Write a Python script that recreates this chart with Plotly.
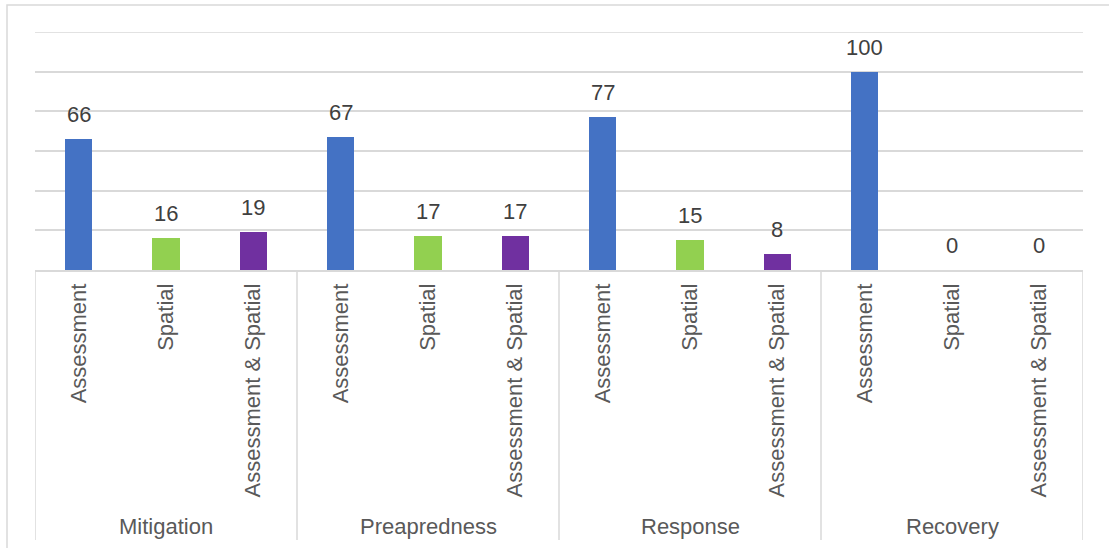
import plotly.graph_objects as go

phases = ["Mitigation", "Preapredness", "Response", "Recovery"]
types = ["Assessment", "Spatial", "Assessment & Spatial"]
assessment = [66, 67, 77, 100]
spatial = [16, 17, 15, 0]
both = [19, 17, 8, 0]
colors = {"Assessment": "#4472C4", "Spatial": "#92D050", "Assessment & Spatial": "#7030A0"}
y_max = 120

W, H = 1109, 548
ML, MR, MT, MB = 35, 26, 32, 278
PW = W - ML - MR
PH = H - MT - MB

xs, ys, cols, ticktext = [], [], [], []
series = {"Assessment": assessment, "Spatial": spatial, "Assessment & Spatial": both}
for gi, ph in enumerate(phases):
    for ti, t in enumerate(types):
        xs.append(gi * len(types) + ti)
        ys.append(series[t][gi])
        cols.append(colors[t])
        ticktext.append(t)

fig = go.Figure()
fig.add_trace(go.Bar(x=xs, y=ys, marker=dict(color=cols, line=dict(width=0)),
                     width=0.31, hoverinfo="skip"))

font = "Liberation Sans, Arial, sans-serif"
annotations = []
for x, y in zip(xs, ys):
    annotations.append(dict(x=x, y=y, xref="x", yref="y", text=str(y), showarrow=False,
                            yanchor="bottom", yshift=10,
                            font=dict(family=font, size=22, color="#404040")))
n = len(types)
for gi, ph in enumerate(phases):
    annotations.append(dict(x=gi * n + (n - 1) / 2, y=0, xref="x", yref="paper", text=ph,
                            showarrow=False, yanchor="middle", yshift=-256,
                            font=dict(family=font, size=22, color="#595959")))

shapes = []
for gi in range(len(phases) + 1):
    shapes.append(dict(type="line", xref="x", yref="paper", x0=gi * n - 0.5, x1=gi * n - 0.5,
                       y0=0, y1=-(540 - (MT + PH)) / PH, line=dict(color="#d9d9d9", width=1.5)))
# top gridline at the range edge
shapes.append(dict(type="line", xref="paper", yref="y", x0=0, x1=1, y0=y_max, y1=y_max,
                   line=dict(color="#d9d9d9", width=1.5), layer="below"))
# outer chart border
shapes.append(dict(type="rect", xref="paper", yref="paper",
                   x0=(7 - ML) / PW, x1=(W + 5 - ML) / PW,
                   y0=-(H + 5 - MT - PH) / PH, y1=1 + (MT - 5) / PH,
                   line=dict(color="#d9d9d9", width=1.5), fillcolor="rgba(0,0,0,0)", layer="below"))

fig.update_layout(
    width=W, height=H,
    margin=dict(l=ML, r=MR, t=MT, b=MB, pad=0),
    paper_bgcolor="white", plot_bgcolor="white",
    showlegend=False,
    bargap=0,
    annotations=annotations,
    shapes=shapes,
    xaxis=dict(range=[-0.5, len(xs) - 0.5], tickmode="array", tickvals=xs, ticktext=ticktext,
               tickangle=-90, tickfont=dict(family=font, size=22, color="#595959"),
               showline=True, linecolor="#d9d9d9", linewidth=1.5, showgrid=False,
               ticks="", ticklabelstandoff=3, zeroline=False, fixedrange=True),
    yaxis=dict(range=[0, y_max], dtick=20, showgrid=True, gridcolor="#d9d9d9", gridwidth=1.5,
               showticklabels=False, zeroline=False, showline=False, ticks="", fixedrange=True),
)

fig.write_html("out.html", config={"displayModeBar": False})
